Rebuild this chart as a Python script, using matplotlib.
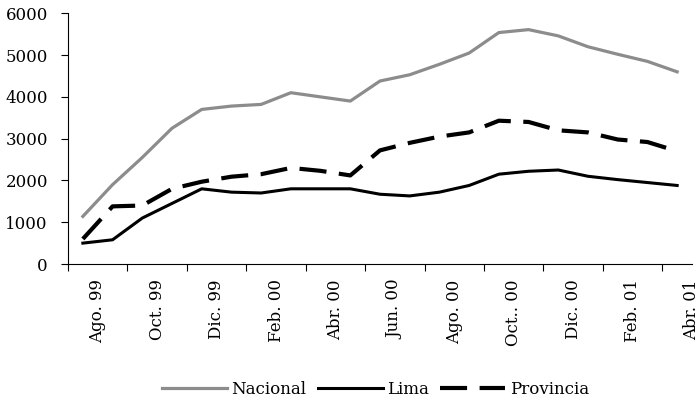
import matplotlib
matplotlib.use("Agg")
import matplotlib.pyplot as plt
import numpy as np

# monthly series, Ago. 99 .. Abr. 01
months = ["Ago. 99", "Set. 99", "Oct. 99", "Nov. 99", "Dic. 99", "Ene. 00",
          "Feb. 00", "Mar. 00", "Abr. 00", "May. 00", "Jun. 00", "Jul. 00",
          "Ago. 00", "Set. 00", "Oct.. 00", "Nov. 00", "Dic. 00", "Ene. 01",
          "Feb. 01", "Mar. 01", "Abr. 01"]
nacional = [1140, 1900, 2550, 3250, 3700, 3780, 3820, 4100, 4000, 3900, 4380,
            4530, 4780, 5050, 5540, 5610, 5460, 5200, 5020, 4850, 4600]
lima = [500, 580, 1100, 1450, 1800, 1720, 1700, 1800, 1800, 1800, 1670,
        1630, 1720, 1880, 2150, 2220, 2250, 2100, 2020, 1950, 1880]
provincia = [600, 1380, 1400, 1800, 1970, 2090, 2150, 2300, 2230, 2120, 2720,
             2900, 3050, 3150, 3430, 3400, 3200, 3150, 2980, 2920, 2700]

plt.rcParams["font.family"] = "DejaVu Serif"
plt.rcParams["font.size"] = 12

fig = plt.figure(figsize=(6.99, 4.04), dpi=100)
ax = fig.add_axes([0.0973, 0.3465, 0.8927, 0.6205])

x = np.arange(len(months))
ax.plot(x, nacional, color="#8c8c8c", lw=2.3, label="Nacional")
ax.plot(x, lima, color="black", lw=2.2, label="Lima")
ax.plot(x, provincia, color="black", lw=3, dashes=(6.5, 3), label="Provincia")

ax.set_xlim(-0.5, 20.5)
ax.set_ylim(0, 6000)
ax.set_yticks(range(0, 6001, 1000))

# ticks on category boundaries, labels centred over each two-month span
ax.set_xticks(np.arange(-0.5, 20, 2))
ax.set_xticklabels([])
ax.set_xticks(np.arange(0.5, 21, 2), minor=True)
ax.set_xticklabels(months[::2], minor=True, rotation=90, va="top", ha="center")
ax.tick_params(axis="x", which="major", direction="out", length=5, width=0.8)
ax.tick_params(axis="x", which="minor", length=0, pad=11)
ax.tick_params(axis="y", direction="out", length=5, width=0.8, pad=9.5)

for s in ["top", "right"]:
    ax.spines[s].set_visible(False)
for s in ["left", "bottom"]:
    ax.spines[s].set_linewidth(0.8)

fig.legend(loc="center", bbox_to_anchor=(0.537, 0.037), ncol=3, frameon=False,
           handlelength=3.9, handletextpad=0.25, columnspacing=0.7,
           fontsize=12)

fig.savefig("out.png", dpi=100)
